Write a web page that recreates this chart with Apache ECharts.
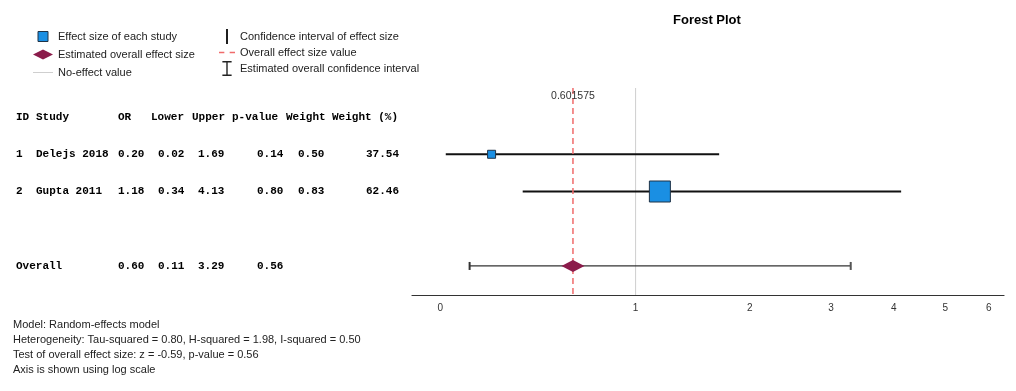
<!DOCTYPE html>
<html><head><meta charset="utf-8">
<script src="https://cdn.jsdelivr.net/npm/echarts@6/dist/echarts.min.js"></script>
<style>html,body{margin:0;padding:0;background:#fff}#c{width:1016px;height:391px}</style>
</head><body><div id="c"></div>
<script>
// ---------- data ----------
const ids = ['1', '2'];
const studies = ['Delejs 2018', 'Gupta 2011'];
const orValues = [0.20, 1.18];
const lowerValues = [0.02, 0.34];
const upperValues = [1.69, 4.13];
const pValues = [0.14, 0.80];
const weights = [0.50, 0.83];
const weightPct = [37.54, 62.46];
const studyRows = [1, 2];
const headerLabels = ['ID', 'Study', 'OR', 'Lower', 'Upper', 'p-value', 'Weight', 'Weight (%)'];
const overallLabel = 'Overall';
const overallRow = 4;
const overallOR = 0.601575;
const overallLower = 0.11;
const overallUpper = 3.29;
const overallP = 0.56;
const noEffectValue = 1;
const xTickLabels = [0, 1, 2, 3, 4, 5, 6];
const footnotes = [
  'Model: Random-effects model',
  'Heterogeneity: Tau-squared = 0.80, H-squared = 1.98, I-squared = 0.50',
  'Test of overall effect size: z = -0.59, p-value = 0.56',
  'Axis is shown using log scale'
];
const legendNames = {
  study: 'Effect size of each study',
  overall: 'Estimated overall effect size',
  noEffect: 'No-effect value',
  ci: 'Confidence interval of effect size',
  overallLine: 'Overall effect size value',
  overallCI: 'Estimated overall confidence interval'
};

// ---------- scale (axis shown on log scale of 1 + value) ----------
const toAxis = v => Math.log(1 + v);
const fromAxis = a => Math.exp(a) - 1;

// ---------- layout / style ----------
const headStarts = [16, 36, 118, 151, 192, 232, 286, 332];
const valStarts = [16, 36, 118, 158, 198, 257, 298, 366];
const monoBase = { fontFamily: '"Liberation Mono", "Courier New", monospace', fontWeight: 'bold', fontSize: 11, color: '#000' };
const rich = {};
for (let i = 0; i < 8; i++) {
  rich['h' + i] = Object.assign({}, monoBase, i < 7 ? { width: headStarts[i + 1] - headStarts[i] } : {});
  rich['v' + i] = Object.assign({}, monoBase, i < 7 ? { width: valStarts[i + 1] - valStarts[i] } : {});
}
rich.ov = Object.assign({}, monoBase, { width: valStarts[2] - valStarts[0] });

const f2 = v => v.toFixed(2);
function headerText() {
  return headerLabels.map((t, i) => '{h' + i + '|' + t + '}').join('');
}
function studyText(i) {
  const cells = [ids[i], studies[i], f2(orValues[i]), f2(lowerValues[i]), f2(upperValues[i]), f2(pValues[i]), f2(weights[i]), f2(weightPct[i])];
  return cells.map((t, k) => '{v' + k + '|' + t + '}').join('');
}
function overallText() {
  const cells = [f2(overallOR), f2(overallLower), f2(overallUpper), f2(overallP)];
  return '{ov|' + overallLabel + '}' + cells.map((t, k) => '{v' + (k + 2) + '|' + t + '}').join('');
}

const minW = Math.min(...weightPct), maxW = Math.max(...weightPct);
const sizeFor = w => 8 + (w - minW) / (maxW - minW) * 13;

const sansFont = '"Liberation Sans", Arial, sans-serif';

const chart = echarts.init(document.getElementById('c'), null, { renderer: 'canvas' });

function vLine(color, dash, width, withLabel) {
  return function (params, api) {
    const cs = params.coordSys;
    const x = api.coord([api.value(0), 0])[0];
    const children = [{
      type: 'line',
      shape: { x1: x, y1: cs.y, x2: x, y2: cs.y + cs.height },
      style: { stroke: color, lineWidth: width, lineDash: dash }
    }];
    if (withLabel) {
      children.push({
        type: 'text',
        z2: 10,
        style: {
          x: x, y: cs.y + 8, text: String(overallOR),
          textAlign: 'center', textVerticalAlign: 'middle',
          font: '10.5px ' + sansFont, fill: '#333'
        }
      });
    }
    return { type: 'group', children: children };
  };
}

const option = {
  backgroundColor: '#fff',
  animation: false,
  title: [
    { text: 'Forest Plot', left: 668, top: 9, textStyle: { fontFamily: sansFont, fontSize: 13, fontWeight: 'bold', color: '#000' } },
    { text: footnotes.join('\n'), left: 8, top: 312, textStyle: { fontFamily: sansFont, fontSize: 11, fontWeight: 'normal', color: '#222', lineHeight: 15 } }
  ],
  legend: [
    {
      orient: 'vertical', left: 28, top: 26, itemWidth: 20, itemHeight: 10, itemGap: 7, selectedMode: false,
      textStyle: { fontFamily: sansFont, fontSize: 11, color: '#222' },
      data: [
        { name: legendNames.study, icon: 'path://M0,0H10V10H0Z', itemStyle: { color: '#1a8fe3', borderColor: '#1f3347', borderWidth: 1 } },
        { name: legendNames.overall, icon: 'diamond', itemStyle: { color: '#8b1c4b', borderWidth: 0 } },
        { name: legendNames.noEffect, icon: 'path://M0,0H20V1H0Z', itemStyle: { color: '#cfcfcf', borderWidth: 0 } }
      ]
    },
    {
      orient: 'vertical', left: 214, top: 24, itemWidth: 16, itemHeight: 15, itemGap: 3, selectedMode: false,
      textStyle: { fontFamily: sansFont, fontSize: 11, color: '#222' },
      data: [
        { name: legendNames.ci, icon: 'path://M0,0H2V16H0Z', itemStyle: { color: '#111', borderWidth: 0 } },
        { name: legendNames.overallLine, icon: 'path://M0,0H6V1.5H0Z M12,0H18V1.5H12Z', itemStyle: { color: '#f06b6b', borderWidth: 0 } },
        { name: legendNames.overallCI, icon: 'path://M0,0H8V1.2H4.6V11.8H8V13H0V11.8H3.4V1.2H0Z', itemStyle: { color: '#222', borderWidth: 0 } }
      ]
    }
  ],
  grid: { left: 412, right: 12, top: 88, bottom: 96, containLabel: false },
  xAxis: {
    type: 'value', min: -0.1, max: 2.0,
    axisLine: { onZero: false, lineStyle: { color: '#333', width: 1.2 } },
    axisTick: { show: false },
    splitLine: { show: false },
    axisLabel: {
      customValues: xTickLabels.map(toAxis),
      formatter: v => String(Math.round(fromAxis(v))),
      fontFamily: sansFont, fontSize: 10, color: '#333', margin: 8
    }
  },
  yAxis: {
    type: 'value', inverse: true, min: -0.78, max: 4.78,
    axisLine: { show: false, onZero: false },
    axisTick: { show: false },
    splitLine: { show: false },
    axisLabel: {
      customValues: [0].concat(studyRows, [overallRow]),
      align: 'left', margin: 396,
      formatter: function (v) {
        if (v === 0) return headerText();
        const i = studyRows.indexOf(v);
        if (i >= 0) return studyText(i);
        if (v === overallRow) return overallText();
        return '';
      },
      rich: rich
    }
  },
  series: [
    {
      name: legendNames.noEffect, type: 'custom', z: 1, clip: false,
      itemStyle: { color: '#cfcfcf' },
      encode: { x: 0, y: 1 },
      data: [[toAxis(noEffectValue), 0]],
      renderItem: vLine('#cfcfcf', null, 1, false)
    },
    {
      name: legendNames.ci, type: 'custom', z: 2,
      itemStyle: { color: '#111' },
      encode: { x: [0, 1], y: 2 },
      data: studyRows.map((r, i) => [toAxis(lowerValues[i]), toAxis(upperValues[i]), r]),
      renderItem: function (params, api) {
        const p1 = api.coord([api.value(0), api.value(2)]);
        const p2 = api.coord([api.value(1), api.value(2)]);
        return { type: 'line', shape: { x1: p1[0], y1: p1[1], x2: p2[0], y2: p2[1] }, style: { stroke: '#111', lineWidth: 2 } };
      }
    },
    {
      name: legendNames.overallLine, type: 'custom', z: 3, clip: false,
      itemStyle: { color: '#f06b6b' },
      encode: { x: 0, y: 1 },
      data: [[toAxis(overallOR), 0]],
      renderItem: vLine('#f06b6b', [6, 4], 1.5, true)
    },
    {
      name: legendNames.study, type: 'scatter', z: 4,
      symbol: 'rect',
      symbolSize: val => sizeFor(val[2]),
      itemStyle: { color: '#1a8fe3', borderColor: '#1f3347', borderWidth: 1, opacity: 1 },
      data: studyRows.map((r, i) => [toAxis(orValues[i]), r, weightPct[i]])
    },
    {
      name: legendNames.overallCI, type: 'custom', z: 4,
      itemStyle: { color: '#222' },
      encode: { x: [0, 1], y: 2 },
      data: [[toAxis(overallLower), toAxis(overallUpper), overallRow]],
      renderItem: function (params, api) {
        const p1 = api.coord([api.value(0), api.value(2)]);
        const p2 = api.coord([api.value(1), api.value(2)]);
        const h = 4;
        const st = { stroke: '#333', lineWidth: 1.3 };
        return {
          type: 'group', children: [
            { type: 'line', shape: { x1: p1[0], y1: p1[1], x2: p2[0], y2: p2[1] }, style: st },
            { type: 'line', shape: { x1: p1[0], y1: p1[1] - h, x2: p1[0], y2: p1[1] + h }, style: { stroke: '#333', lineWidth: 2 } },
            { type: 'line', shape: { x1: p2[0], y1: p2[1] - h, x2: p2[0], y2: p2[1] + h }, style: { stroke: '#555', lineWidth: 2 } }
          ]
        };
      }
    },
    {
      name: legendNames.overall, type: 'scatter', z: 6,
      symbol: 'diamond', symbolSize: [23, 12],
      itemStyle: { color: '#8b1c4b', opacity: 1 },
      data: [[toAxis(overallOR), overallRow]]
    }
  ]
};
chart.setOption(option);
</script>
</body></html>
